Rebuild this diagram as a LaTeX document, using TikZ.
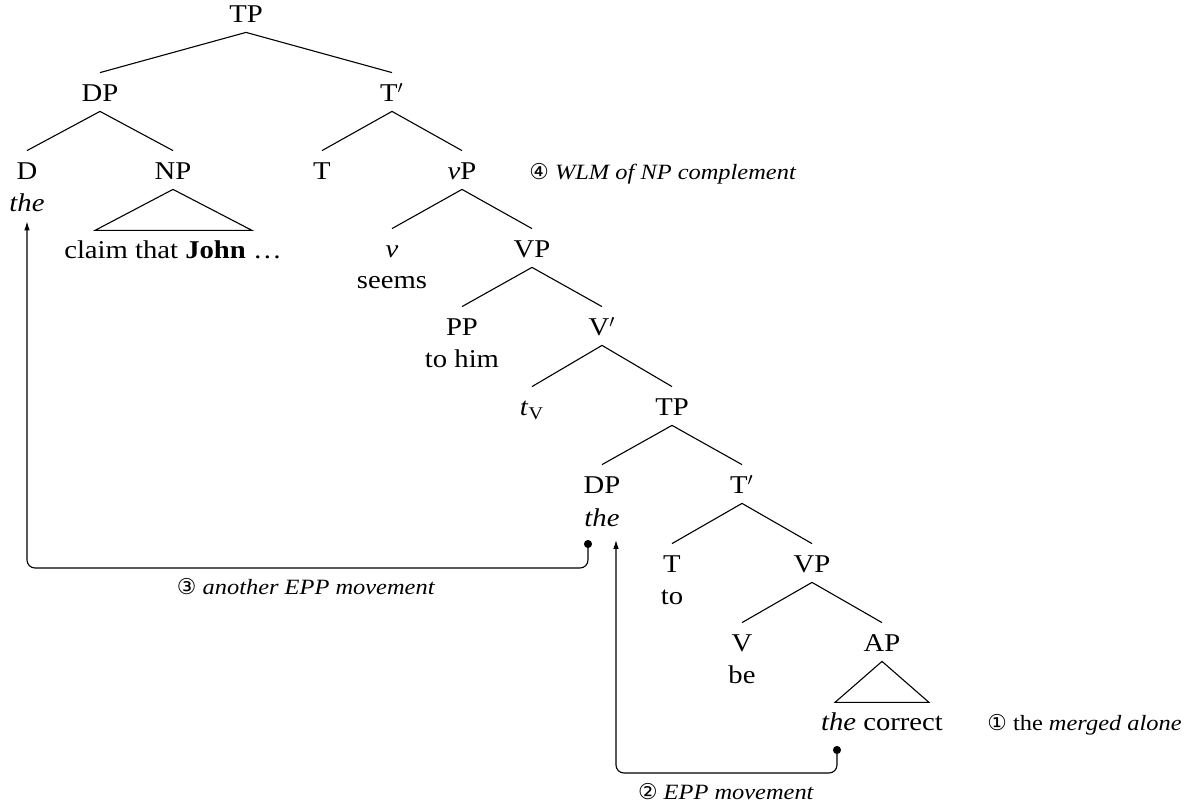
\documentclass[tikz,border=0pt]{standalone}
\usepackage{fontspec}
\setmainfont{Liberation Serif}[FakeStretch=1.12]
\newfontfamily\circfont{DejaVu Sans}
\usetikzlibrary{arrows.meta}
\tikzset{
  cat/.style={anchor=base, inner xsep=2pt, inner ysep=0pt,
    text height=14.5pt, text depth=4.5pt, font=\fontsize{12.8}{15}\selectfont},
  word/.style={cat},
  note/.style={anchor=base, inner sep=0pt, font=\fontsize{10.9}{13}\selectfont},
  branch/.style={line width=0.55pt},
  move/.style={line width=0.55pt, rounded corners=4pt,
    {Circle[length=4pt]}-{Latex[length=4.5pt,width=2.8pt]}}
}
\newcommand{\circnum}[1]{{\circfont #1}}

\begin{document}
\begin{tikzpicture}[x=0.5pt,y=-0.5pt]
  \useasboundingbox (0,0) rectangle (1196,807);
  % upper part of the tree
  \node[cat] (tp) at (246,23) {TP};
  \node[cat] (dp) at (100,102) {DP};
  \node[cat] (tb) at (392,102) {T$'$};
  \node[cat] (d) at (27,180) {D};
  \node[word] (the1) at (27,212) {\textit{the}};
  \node[cat] (np) at (173,180) {NP};
  \node[word] (claim) at (173,259) {claim that \textbf{John} \dots};
  \node[cat] (t) at (322,180) {T};
  \node[cat] (vp) at (462,180) {\textit{v}P};
  \node[cat] (v) at (392,258) {\textit{v}};
  \node[word] (seems) at (392,289) {seems};
  \node[cat] (vvp) at (532,258) {VP};
  \node[cat] (pp) at (462,336) {PP};
  \node[word] (him) at (462,368) {to him};
  \node[cat] (vb) at (602,336) {V$'$};
  \node[cat] (tv) at (532,416) {\textit{t}\textsubscript{V}};
  % embedded clause
  \node[cat] (tp2) at (672,416) {TP};
  \node[cat] (dp2) at (602,494) {DP};
  \node[word] (the2) at (602,527) {\textit{the}};
  \node[cat] (tb2) at (742,494) {T$'$};
  \node[cat] (t2) at (672,573) {T};
  \node[word] (to) at (672,605) {to};
  \node[cat] (vp2) at (812,573) {VP};
  \node[cat] (v2) at (742,652) {V};
  \node[word] (be) at (742,684) {be};
  \node[cat] (ap) at (882,652) {AP};
  \node[word] (correct) at (882,731) {\textit{the} correct};

  \foreach \a/\b in {tp/dp,tp/tb,dp/d,dp/np,tb/t,tb/vp,vp/v,vp/vvp,vvp/pp,vvp/vb,
      vb/tv,vb/tp2,tp2/dp2,tp2/tb2,tb2/t2,tb2/vp2,vp2/v2,vp2/ap}
    \draw[branch] (\a.south) -- (\b.north);
  \draw[branch] (np.south) -- ++(-78,41) -- ++(157,0) -- cycle;
  \draw[branch] (ap.south) -- ++(-47,41) -- ++(94,0) -- cycle;

  % movement steps
  \coordinate (m2from) at (837,746);
  \coordinate (m2to) at (616,540);
  \coordinate (m3from) at (588,540);
  \draw[move] (m2from) -- ++(0,27) -| (m2to);
  \draw[move] (m3from) -- ++(0,28) -| (the1.south);

  \node[note, anchor=base west] (merge) at (987,731) {\circnum{①} the \textit{merged alone}};
  \node[note] (epp) at (726,800) {\circnum{②} \textit{EPP movement}};
  \node[note] (epp2) at (306,595) {\circnum{③} \textit{another EPP movement}};
  \node[note, anchor=base west] (wlm) at (529,180) {\circnum{④} \textit{WLM of NP complement}};
\end{tikzpicture}
\end{document}
